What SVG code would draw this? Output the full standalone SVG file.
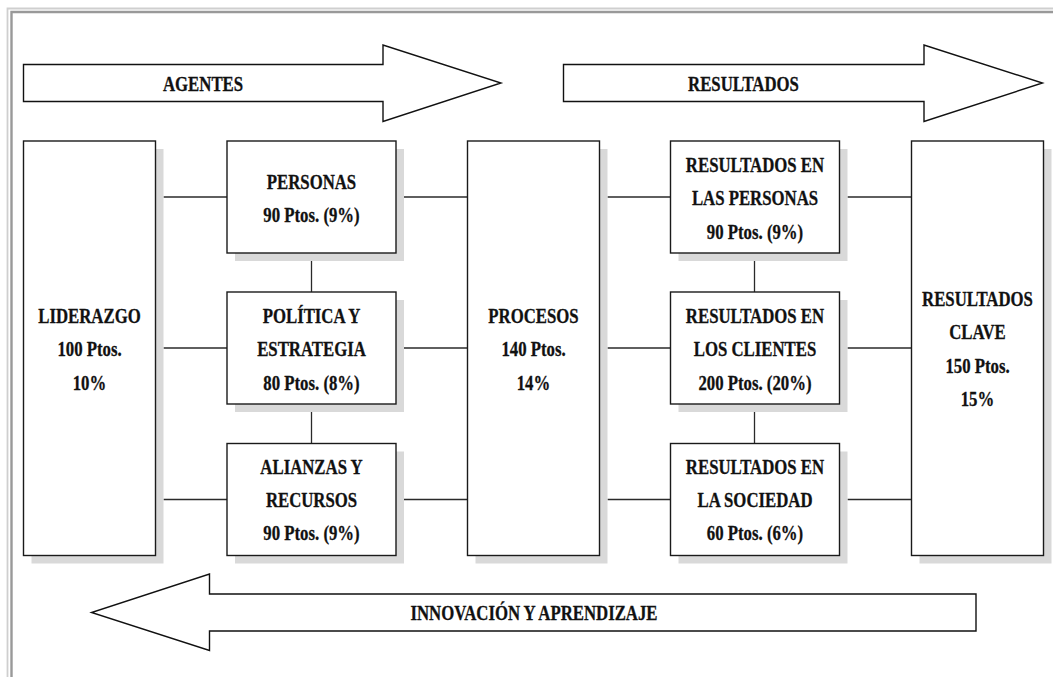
<svg xmlns="http://www.w3.org/2000/svg" width="1053" height="677" viewBox="0 0 1053 677">
<style>
.bg{fill:#ffffff}
.frame1{fill:none;stroke:#cfcfcf;stroke-width:1.8}
.frame2{fill:none;stroke:#999999;stroke-width:2.4}
.box{fill:#ffffff;stroke:#1a1a1a;stroke-width:1.4}
.shadow{fill:#d9d9d9}
.arrow{fill:#ffffff;stroke:#111111;stroke-width:1.4;stroke-linejoin:miter}
.conn{stroke:#2a2a2a;stroke-width:1.3;fill:none}
.t{font-family:"Liberation Serif","Times New Roman",serif;font-weight:bold;font-size:21.5px;fill:#111111;stroke:#111111;stroke-width:0.3;text-anchor:middle}
</style>
<rect class="bg" x="0" y="0" width="1053" height="677"/>
<path class="frame1" d="M7.5,677 V8.5 H1053"/>
<path class="frame2" d="M11.5,677 V12 H1053"/>

<g id="arrow-agentes">
<polygon class="arrow" points="23.5,64.5 383,64.5 383,45 501,83 383,121.5 383,101.5 23.5,101.5"/>
<text class="t" transform="translate(203,90.5) scale(0.78,1)">AGENTES</text>
</g>
<g id="arrow-resultados">
<polygon class="arrow" points="563.5,64.5 924,64.5 924,45 1042.5,83 924,121.5 924,101.5 563.5,101.5"/>
<text class="t" transform="translate(743.5,90.5) scale(0.78,1)">RESULTADOS</text>
</g>
<g id="arrow-innovacion">
<polygon class="arrow" points="976,594 209.5,594 209.5,574 91.5,612.5 209.5,650.5 209.5,631 976,631"/>
<text class="t" transform="translate(534,620) scale(0.78,1)">INNOVACIÓN Y APRENDIZAJE</text>
</g>

<g id="connectors">
<line class="conn" x1="163.5" y1="197" x2="227" y2="197"/>
<line class="conn" x1="163.5" y1="348" x2="227" y2="348"/>
<line class="conn" x1="163.5" y1="499.5" x2="227" y2="499.5"/>
<line class="conn" x1="404" y1="197" x2="467.5" y2="197"/>
<line class="conn" x1="404" y1="348" x2="467.5" y2="348"/>
<line class="conn" x1="404" y1="499.5" x2="467.5" y2="499.5"/>
<line class="conn" x1="607.5" y1="197" x2="670.5" y2="197"/>
<line class="conn" x1="607.5" y1="348" x2="670.5" y2="348"/>
<line class="conn" x1="607.5" y1="499.5" x2="670.5" y2="499.5"/>
<line class="conn" x1="847.5" y1="197" x2="911.5" y2="197"/>
<line class="conn" x1="847.5" y1="348" x2="911.5" y2="348"/>
<line class="conn" x1="847.5" y1="499.5" x2="911.5" y2="499.5"/>
<line class="conn" x1="311.5" y1="261" x2="311.5" y2="292"/>
<line class="conn" x1="311.5" y1="412" x2="311.5" y2="443.5"/>
<line class="conn" x1="754.5" y1="261" x2="754.5" y2="292"/>
<line class="conn" x1="754.5" y1="412" x2="754.5" y2="443.5"/>
</g>

<g id="liderazgo">
<rect class="shadow" x="31.5" y="149" width="132" height="414.5"/>
<rect class="box" x="23.5" y="141" width="132" height="414.5"/>
<text class="t" transform="translate(89.5,323) scale(0.78,1)"><tspan x="0">LIDERAZGO</tspan><tspan x="0" dy="33.5">100 Ptos.</tspan><tspan x="0" dy="33.5">10%</tspan></text>
</g>

<g id="personas">
<rect class="shadow" x="235" y="149" width="169" height="112"/>
<rect class="box" x="227" y="141" width="169" height="112"/>
<text class="t" transform="translate(311.5,189) scale(0.78,1)"><tspan x="0">PERSONAS</tspan><tspan x="0" dy="33.5">90 Ptos. (9%)</tspan></text>
</g>

<g id="politica">
<rect class="shadow" x="235" y="300" width="169" height="112"/>
<rect class="box" x="227" y="292" width="169" height="112"/>
<text class="t" transform="translate(311.5,323) scale(0.78,1)"><tspan x="0">POLÍTICA Y</tspan><tspan x="0" dy="33.5">ESTRATEGIA</tspan><tspan x="0" dy="33.5">80 Ptos. (8%)</tspan></text>
</g>

<g id="alianzas">
<rect class="shadow" x="235" y="451.5" width="169" height="112"/>
<rect class="box" x="227" y="443.5" width="169" height="112"/>
<text class="t" transform="translate(311.5,473.5) scale(0.78,1)"><tspan x="0">ALIANZAS Y</tspan><tspan x="0" dy="33.5">RECURSOS</tspan><tspan x="0" dy="33.5">90 Ptos. (9%)</tspan></text>
</g>

<g id="procesos">
<rect class="shadow" x="475.5" y="149" width="132" height="414.5"/>
<rect class="box" x="467.5" y="141" width="132" height="414.5"/>
<text class="t" transform="translate(533.5,323) scale(0.78,1)"><tspan x="0">PROCESOS</tspan><tspan x="0" dy="33.5">140 Ptos.</tspan><tspan x="0" dy="33.5">14%</tspan></text>
</g>

<g id="resultados-personas">
<rect class="shadow" x="678.5" y="149" width="169" height="112"/>
<rect class="box" x="670.5" y="141" width="169" height="112"/>
<text class="t" transform="translate(755,172) scale(0.78,1)"><tspan x="0">RESULTADOS EN</tspan><tspan x="0" dy="33.5">LAS PERSONAS</tspan><tspan x="0" dy="33.5">90 Ptos. (9%)</tspan></text>
</g>

<g id="resultados-clientes">
<rect class="shadow" x="678.5" y="300" width="169" height="112"/>
<rect class="box" x="670.5" y="292" width="169" height="112"/>
<text class="t" transform="translate(755,323) scale(0.78,1)"><tspan x="0">RESULTADOS EN</tspan><tspan x="0" dy="33.5">LOS CLIENTES</tspan><tspan x="0" dy="33.5">200 Ptos. (20%)</tspan></text>
</g>

<g id="resultados-sociedad">
<rect class="shadow" x="678.5" y="451.5" width="169" height="112"/>
<rect class="box" x="670.5" y="443.5" width="169" height="112"/>
<text class="t" transform="translate(755,473.5) scale(0.78,1)"><tspan x="0">RESULTADOS EN</tspan><tspan x="0" dy="33.5">LA SOCIEDAD</tspan><tspan x="0" dy="33.5">60 Ptos. (6%)</tspan></text>
</g>

<g id="resultados-clave">
<rect class="shadow" x="919.5" y="149" width="132" height="414.5"/>
<rect class="box" x="911.5" y="141" width="132" height="414.5"/>
<text class="t" transform="translate(977.5,306) scale(0.78,1)"><tspan x="0">RESULTADOS</tspan><tspan x="0" dy="33.5">CLAVE</tspan><tspan x="0" dy="33.5">150 Ptos.</tspan><tspan x="0" dy="33.5">15%</tspan></text>
</g>
</svg>
